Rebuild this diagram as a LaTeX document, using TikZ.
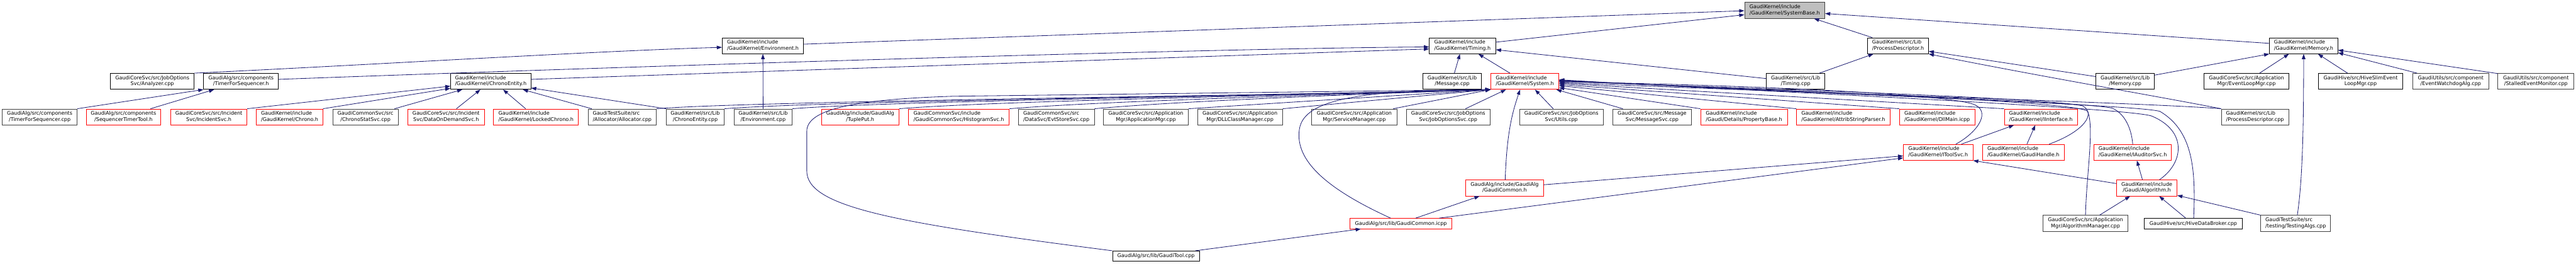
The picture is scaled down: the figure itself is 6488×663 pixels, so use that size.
\documentclass[tikz,border=0pt]{standalone}
\usepackage{fontspec}
\setmainfont{DejaVu Sans}
\usetikzlibrary{arrows.meta,calc}
\definecolor{edgeblue}{HTML}{191970}
\definecolor{rootfill}{HTML}{BFBFBF}
\definecolor{darkbox}{HTML}{404040}
\newcommand{\twol}[2]{\begin{tabular}{@{}c@{}}\multicolumn{1}{@{}l@{}}{#1}\\#2\end{tabular}}
\begin{document}
\begin{tikzpicture}[x=1pt,y=-1pt,
  box/.style={draw=black, fill=white, line width=1.3pt, inner sep=0pt, minimum height=40pt, font=\fontsize{12.8}{15}\selectfont, text=black},
  redbox/.style={box, draw=red},
  greybox/.style={box, draw=darkbox},
  rootbox/.style={box, fill=rootfill, draw=darkbox},
  single/.style={minimum height=26pt},
  e/.style={draw=edgeblue, line width=1.3pt, -{Triangle[length=13pt,width=9pt]}},
]
\useasboundingbox (0,0) rectangle (6488,663);
\fill[white] (0,0) rectangle (6488,663);

% row 0
\node[rootbox, minimum width=202pt] (sb) at (4495,26) {\twol{GaudiKernel/include}{/GaudiKernel/SystemBase.h}};
% row 1
\node[box, minimum width=205pt] (env) at (1921.5,115) {\twol{GaudiKernel/include}{/GaudiKernel/Environment.h}};
\node[box, minimum width=167pt] (tim) at (3683.5,115) {\twol{GaudiKernel/include}{/GaudiKernel/Timing.h}};
\node[box, minimum width=153pt] (pdh) at (4780.5,115) {\twol{GaudiKernel/src/Lib}{/ProcessDescriptor.h}};
\node[box, minimum width=172pt] (memh) at (5802,115) {\twol{GaudiKernel/include}{/GaudiKernel/Memory.h}};
% row 2
\node[box, minimum width=211pt] (ana) at (383.5,204.5) {\twol{GaudiCoreSvc/src/JobOptions}{Svc/Analyzer.cpp}};
\node[box, minimum width=188pt] (tfsh) at (607,204.5) {\twol{GaudiAlg/src/components}{/TimerForSequencer.h}};
\node[box, minimum width=202pt] (ceh) at (1236,204.5) {\twol{GaudiKernel/include}{/GaudiKernel/ChronoEntity.h}};
\node[box, minimum width=147pt] (msgc) at (3657.5,204.5) {\twol{GaudiKernel/src/Lib}{/Message.cpp}};
\node[redbox, minimum width=171pt] (sys) at (3840.5,204.5) {\twol{GaudiKernel/include}{/GaudiKernel/System.h}};
\node[box, minimum width=147pt] (timc) at (4522.5,204.5) {\twol{GaudiKernel/src/Lib}{/Timing.cpp}};
\node[box, minimum width=147pt] (memc) at (5352.5,204.5) {\twol{GaudiKernel/src/Lib}{/Memory.cpp}};
\node[box, minimum width=214pt] (elm) at (5658,204.5) {\twol{GaudiCoreSvc/src/Application}{Mgr/EventLoopMgr.cpp}};
\node[box, minimum width=213pt] (hslm) at (5945.5,204.5) {\twol{GaudiHive/src/HiveSlimEvent}{LoopMgr.cpp}};
\node[greybox, minimum width=191pt] (ewd) at (6172.5,204.5) {\twol{GaudiUtils/src/component}{/EventWatchdogAlg.cpp}};
\node[greybox, minimum width=192pt] (sem) at (6387,204.5) {\twol{GaudiUtils/src/component}{/StalledEventMonitor.cpp}};
% row 3
\node[greybox, minimum width=188pt] (tfsc) at (100,294) {\twol{GaudiAlg/src/components}{/TimerForSequencer.cpp}};
\node[redbox, minimum width=188pt] (stt) at (311,294) {\twol{GaudiAlg/src/components}{/SequencerTimerTool.h}};
\node[redbox, minimum width=192pt] (inc) at (526,294) {\twol{GaudiCoreSvc/src/Incident}{Svc/IncidentSvc.h}};
\node[redbox, minimum width=167pt] (chr) at (729.5,294) {\twol{GaudiKernel/include}{/GaudiKernel/Chrono.h}};
\node[greybox, minimum width=165pt] (css) at (920.5,294) {\twol{GaudiCommonSvc/src}{/ChronoStatSvc.cpp}};
\node[redbox, minimum width=193pt] (dod) at (1123.5,294) {\twol{GaudiCoreSvc/src/Incident}{Svc/DataOnDemandSvc.h}};
\node[redbox, minimum width=214pt] (lck) at (1350,294) {\twol{GaudiKernel/include}{/GaudiKernel/LockedChrono.h}};
\node[greybox, minimum width=172pt] (alc) at (1567,294) {\twol{GaudiTestSuite/src}{/Allocator/Allocator.cpp}};
\node[greybox, minimum width=146pt] (cec) at (1751,294) {\twol{GaudiKernel/src/Lib}{/ChronoEntity.cpp}};
\node[greybox, minimum width=146pt] (envc) at (1922,294) {\twol{GaudiKernel/src/Lib}{/Environment.cpp}};
\node[redbox, minimum width=195pt] (tup) at (2166.5,294) {\twol{GaudiAlg/include/GaudiAlg}{/TuplePut.h}};
\node[redbox, minimum width=254pt] (his) at (2415,294) {\twol{GaudiCommonSvc/include}{/GaudiCommonSvc/HistogramSvc.h}};
\node[greybox, minimum width=191pt] (evs) at (2660.5,294) {\twol{GaudiCommonSvc/src}{/DataSvc/EvtStoreSvc.cpp}};
\node[greybox, minimum width=214pt] (apm) at (2886,294) {\twol{GaudiCoreSvc/src/Application}{Mgr/ApplicationMgr.cpp}};
\node[greybox, minimum width=214pt] (dll) at (3123,294) {\twol{GaudiCoreSvc/src/Application}{Mgr/DLLClassManager.cpp}};
\node[greybox, minimum width=214pt] (svm) at (3411,294) {\twol{GaudiCoreSvc/src/Application}{Mgr/ServiceManager.cpp}};
\node[greybox, minimum width=211pt] (jos) at (3647.5,294) {\twol{GaudiCoreSvc/src/JobOptions}{Svc/JobOptionsSvc.cpp}};
\node[greybox, minimum width=211pt] (utl) at (3932.5,294) {\twol{GaudiCoreSvc/src/JobOptions}{Svc/Utils.cpp}};
\node[greybox, minimum width=198pt] (msv) at (4161,294) {\twol{GaudiCoreSvc/src/Message}{Svc/MessageSvc.cpp}};
\node[redbox, minimum width=219pt] (prb) at (4392.5,294) {\twol{GaudiKernel/include}{/Gaudi/Details/PropertyBase.h}};
\node[redbox, minimum width=235pt] (asp) at (4642.5,294) {\twol{GaudiKernel/include}{/GaudiKernel/AttribStringParser.h}};
\node[redbox, minimum width=190pt] (dlm) at (4879,294) {\twol{GaudiKernel/include}{/GaudiKernel/DllMain.icpp}};
\node[redbox, minimum width=184pt] (iif) at (5140,294) {\twol{GaudiKernel/include}{/GaudiKernel/IInterface.h}};
\node[greybox, minimum width=169pt] (pdc) at (5679.5,294) {\twol{GaudiKernel/src/Lib}{/ProcessDescriptor.cpp}};
% row 4
\node[redbox, minimum width=175pt] (its) at (4881.5,383) {\twol{GaudiKernel/include}{/GaudiKernel/IToolSvc.h}};
\node[redbox, minimum width=206pt] (gh) at (5096,383) {\twol{GaudiKernel/include}{/GaudiKernel/GaudiHandle.h}};
\node[redbox, minimum width=195pt] (aud) at (5371.5,383) {\twol{GaudiKernel/include}{/GaudiKernel/IAuditorSvc.h}};
% row 5
\node[redbox, minimum width=195pt] (gch) at (3789.5,472.5) {\twol{GaudiAlg/include/GaudiAlg}{/GaudiCommon.h}};
\node[redbox, minimum width=152pt] (alg) at (5407,472.5) {\twol{GaudiKernel/include}{/Gaudi/Algorithm.h}};
% row 6
\node[redbox, single, minimum width=257pt] (gci) at (3528.5,562) {GaudiAlg/src/lib/GaudiCommon.icpp};
\node[greybox, minimum width=213pt] (amg) at (5252.5,561.5) {\twol{GaudiCoreSvc/src/Application}{Mgr/AlgorithmManager.cpp}};
\node[box, single, minimum width=246pt] (hdb) at (5524,562) {GaudiHive/src/HiveDataBroker.cpp};
\node[greybox, minimum width=176pt] (tst) at (5782,561.5) {\twol{GaudiTestSuite/src}{/testing/TestingAlgs.cpp}};
% row 7
\node[box, single, minimum width=219pt] (gtl) at (2911.5,644) {GaudiAlg/src/lib/GaudiTool.cpp};

% ---- edges into SystemBase.h
\draw[e] ($(env.east)+(0,-4)$) -- ($(sb.west)+(0,1)$);
\draw[e] ($(tim.east)+(0,-9)$) -- ($(sb.west)+(0,11)$);
\draw[e] ($(pdh.north west)+(12,0)$) -- ($(sb.south east)+(-28,0)$);
\draw[e] ($(memh.west)+(0,-6)$) -- ($(sb.east)+(0,8)$);
% ---- Environment.h
\draw[e] (ana.north east) .. controls (900,165) and (1500,128) .. ($(env.west)+(0,4)$);
\draw[e] (envc.north) -- (env.south);
% ---- Timing.h
\draw[e] ($(tfsh.east)+(0,-5)$) .. controls (1500,170) and (3000,122) .. ($(tim.west)+(0,3)$);
\draw[e] ($(ceh.east)+(0,-5)$) -- ($(tim.west)+(0,8)$);
\draw[e] ($(msgc.north)+(5.5,0)$) -- ($(tim.south)+(-6.5,0)$);
\draw[e] ($(sys.north)+(-37.5,0)$) -- ($(tim.south)+(40,0)$);
\draw[e] ($(timc.west)+(0,-7)$) -- ($(tim.east)+(0,10)$);
% ---- ProcessDescriptor.h
\draw[e] ($(timc.north)+(60,0)$) -- ($(pdh.south)+(-62,0)$);
\draw[e] ($(memc.west)+(0,-12)$) -- ($(pdh.east)+(0,14)$);
\draw[e] (pdc.north west) .. controls (5450,245) and (5100,185) .. (pdh.south east);
% ---- Memory.h
\draw[e] ($(memc.north east)+(0,5)$) -- (memh.south west);
\draw[e] ($(elm.north)+(33,0)$) -- ($(memh.south)+(-37,0)$);
\draw[e] ($(hslm.north)+(-33,0)$) -- ($(memh.south)+(36,0)$);
\draw[e] ($(ewd.north)+(-85,0)$) -- ($(memh.south east)+(0,-3)$);
\draw[e] ($(sem.north west)+(0,1)$) -- ($(memh.east)+(0,11)$);
\draw[e] ($(tst.north)+(4,0)$) .. controls (5800,450) and (5802,300) .. (memh.south);
% ---- TimerForSequencer.h
\draw[e] (tfsc.north east) -- (tfsh.south west);
\draw[e] ($(stt.north)+(68,0)$) -- ($(tfsh.south west)+(27,0)$);
% ---- ChronoEntity.h
\draw[e] (inc.north east) -- ($(ceh.west)+(0,12)$);
\draw[e] (chr.north east) -- ($(ceh.south west)+(0,-3)$);
\draw[e] ($(css.north east)+(-10,0)$) -- ($(ceh.south west)+(30,0)$);
\draw[e] ($(dod.north)+(26,0)$) -- ($(ceh.south)+(-26,0)$);
\draw[e] ($(lck.north)+(-26,0)$) -- ($(ceh.south)+(31,0)$);
\draw[e] ($(alc.north west)+(10,0)$) -- ($(ceh.south east)+(-21,0)$);
\draw[e] (cec.north west) -- ($(ceh.south east)+(0,-4)$);
% ---- System.h from the left
\draw[e] (alc.north east) .. controls +(250,-20) and +(-500,15) .. (sys.south west);
\draw[e] (cec.north east) .. controls +(250,-20) and +(-500,15) .. (sys.south west);
\draw[e] (envc.north east) .. controls +(250,-20) and +(-500,15) .. (sys.south west);
\draw[e] (tup.north east) .. controls +(250,-20) and +(-500,15) .. (sys.south west);
\draw[e] (his.north east) .. controls +(250,-20) and +(-450,15) .. (sys.south west);
\draw[e] (evs.north east) .. controls +(200,-18) and +(-400,14) .. (sys.south west);
\draw[e] (apm.north east) -- (sys.south west);
\draw[e] (dll.north east) -- (sys.south west);
\draw[e] ($(svm.north)+(98,0)$) -- (sys.south west);
\draw[e] (gtl.north west) .. controls (2250,560) and (2032,520) .. (2032,430) -- (2032,330) .. controls (2032,275) and (2150,250) .. (2400,242) -- (sys.south west);
\draw[e] ($(gci.north)+(-26,0)$) .. controls (3330,470) and (3265,400) .. (3272,330) .. controls (3278,255) and (3400,226) .. (sys.south west);
\draw[e] ($(jos.north)+(43.5,0)$) -- ($(sys.south)+(-47.5,0)$);
\draw[e] ($(gch.north)+(1.5,0)$) .. controls (3795,330) and (3810,280) .. ($(sys.south)+(-12,0)$);
\draw[e] ($(utl.north)+(-20.5,0)$) -- ($(sys.south)+(25.5,0)$);
% ---- System.h from the right
\draw[e] ($(msv.north west)+(26,0)$) -- ($(sys.south east)+(-7,0)$);
\draw[e] (prb.north west) -- ($(sys.east)+(0,16)$);
\draw[e] (asp.north west) -- ($(sys.east)+(0,11)$);
\draw[e] (dlm.north west) -- ($(sys.east)+(0,8)$);
\draw[e] (iif.north west) -- ($(sys.east)+(0,5)$);
\draw[e] (pdc.north west) .. controls (5400,258) and (4500,232) .. ($(sys.east)+(0,3)$);
\draw[e] ($(its.north)+(44.5,0)$) .. controls (4985,330) and (5015,278) .. (4970,262) .. controls (4880,232) and (4300,212) .. ($(sys.east)+(0,1)$);
\draw[e] ($(gh.north)+(65,0)$) .. controls (5250,330) and (5280,285) .. (5245,266) .. controls (5150,245) and (4400,222) .. ($(sys.east)+(0,0)$);
\draw[e] (amg.north) .. controls (5255,440) and (5275,320) .. (5258,280) .. controls (5240,255) and (4500,228) .. ($(sys.east)+(0,-1)$);
\draw[e] (aud.north) .. controls (5368,320) and (5350,285) .. (5320,272) .. controls (5250,255) and (4500,230) .. ($(sys.east)+(0,-2)$);
\draw[e] ($(alg.north east)+(-45,0)$) .. controls (5500,410) and (5510,330) .. (5420,292) .. controls (5370,272) and (4500,232) .. ($(sys.east)+(0,-3)$);
\draw[e] ($(hdb.north)+(1,0)$) .. controls (5530,430) and (5525,330) .. (5440,280) .. controls (5380,262) and (4500,234) .. ($(sys.east)+(0,-4)$);
% ---- lower part
\draw[e] ($(its.north)+(58.5,0)$) -- ($(iif.south west)+(25,0)$);
\draw[e] ($(gh.north)+(9,0)$) -- ($(iif.south)+(-14,0)$);
\draw[e] ($(alg.north)+(-11,0)$) -- ($(aud.south)+(10.5,0)$);
\draw[e] ($(alg.west)+(0,-11)$) -- (its.south east);
\draw[e] ($(gch.east)+(0,-8)$) -- ($(its.west)+(0,9)$);
\draw[e] ($(gci.north east)+(-33,0)$) -- ($(its.west)+(0,14)$);
\draw[e] ($(gci.north)+(37,0)$) -- ($(gch.south)+(-63,0)$);
\draw[e] ($(gtl.north east)+(-11,0)$) -- ($(gci.south west)+(28,0)$);
\draw[e] ($(amg.north)+(35.5,0)$) -- ($(alg.south)+(-42,0)$);
\draw[e] ($(hdb.north)+(-19,0)$) -- ($(alg.south)+(31,0)$);
\draw[e] (tst.north west) -- ($(alg.south east)+(0,-2)$);
\end{tikzpicture}
\end{document}
